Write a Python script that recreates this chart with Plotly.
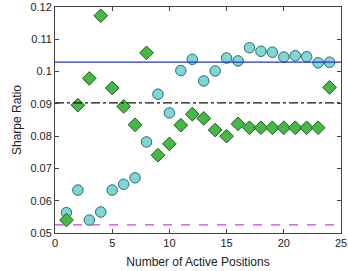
import plotly.graph_objects as go

positions = list(range(1, 25))
cyan_values = [0.0563, 0.0633, 0.0540, 0.0565, 0.0633, 0.0651, 0.0671, 0.0782,
               0.0930, 0.0872, 0.1003, 0.1038, 0.0971, 0.1002, 0.1042, 0.1033,
               0.1074, 0.1063, 0.1060, 0.1045, 0.1049, 0.1046, 0.1027, 0.1029]
green_values = [0.0540, 0.0896, 0.0979, 0.1173, 0.0949, 0.0892, 0.0835, 0.1058,
                0.0741, 0.0776, 0.0834, 0.0868, 0.0855, 0.0819, 0.0800, 0.0838,
                0.0826, 0.0826, 0.0826, 0.0826, 0.0826, 0.0826, 0.0826, 0.0951]
x_range = [0, 25]
blue_level = 0.1029
black_level = 0.0903
magenta_level = 0.0525
x_ticks = [0, 5, 10, 15, 20, 25]
y_ticks = [0.05, 0.06, 0.07, 0.08, 0.09, 0.10, 0.11, 0.12]
y_tick_labels = ["0.05", "0.06", "0.07", "0.08", "0.09", "0.1", "0.11", "0.12"]

fig = go.Figure()
fig.add_trace(go.Scatter(
    x=positions, y=cyan_values, mode="markers",
    marker=dict(symbol="circle", size=10.5, color="#7fd6d6",
                line=dict(color="#2b6a6a", width=1)),
    showlegend=False, cliponaxis=False))
fig.add_trace(go.Scatter(
    x=positions, y=green_values, mode="markers",
    marker=dict(symbol="diamond", size=10.5, color="#45b845",
                line=dict(color="#1f5a1f", width=1)),
    showlegend=False, cliponaxis=False))
fig.add_trace(go.Scatter(
    x=x_range, y=[blue_level, blue_level], mode="lines",
    line=dict(color="#1f35c8", width=1.3), showlegend=False))
fig.add_trace(go.Scatter(
    x=x_range, y=[black_level, black_level], mode="lines",
    line=dict(color="#111111", width=1.2, dash="dashdot"), showlegend=False))
fig.add_trace(go.Scatter(
    x=x_range, y=[magenta_level, magenta_level], mode="lines",
    line=dict(color="#cc44cc", width=1.2, dash="dash"), showlegend=False))

font_main = "Liberation Sans, Arial, sans-serif"
axis_common = dict(
    showgrid=False, zeroline=False, showline=True, linecolor="#444444",
    linewidth=1, mirror="allticks", ticks="inside", ticklen=4,
    tickcolor="#444444", automargin=False, ticklabeloverflow="allow",
    tickfont=dict(family=font_main, size=11, color="#222222"),
)
fig.update_xaxes(range=x_range, tickvals=x_ticks,
                 title=dict(text="Number of Active Positions", standoff=9,
                            font=dict(family=font_main, size=12, color="#222222")),
                 **axis_common)
fig.update_yaxes(range=[0.05, 0.12], tickvals=y_ticks, ticktext=y_tick_labels,
                 title=dict(text="Sharpe Ratio", standoff=6,
                            font=dict(family=font_main, size=12, color="#222222")),
                 **axis_common)
fig.update_layout(
    width=348, height=271,
    margin=dict(l=55, r=7, t=7, b=38),
    plot_bgcolor="white", paper_bgcolor="white",
)
fig.write_html("out.html", config={"displayModeBar": False},
               post_script="document.body.style.margin='0';document.body.style.overflow='hidden';")
